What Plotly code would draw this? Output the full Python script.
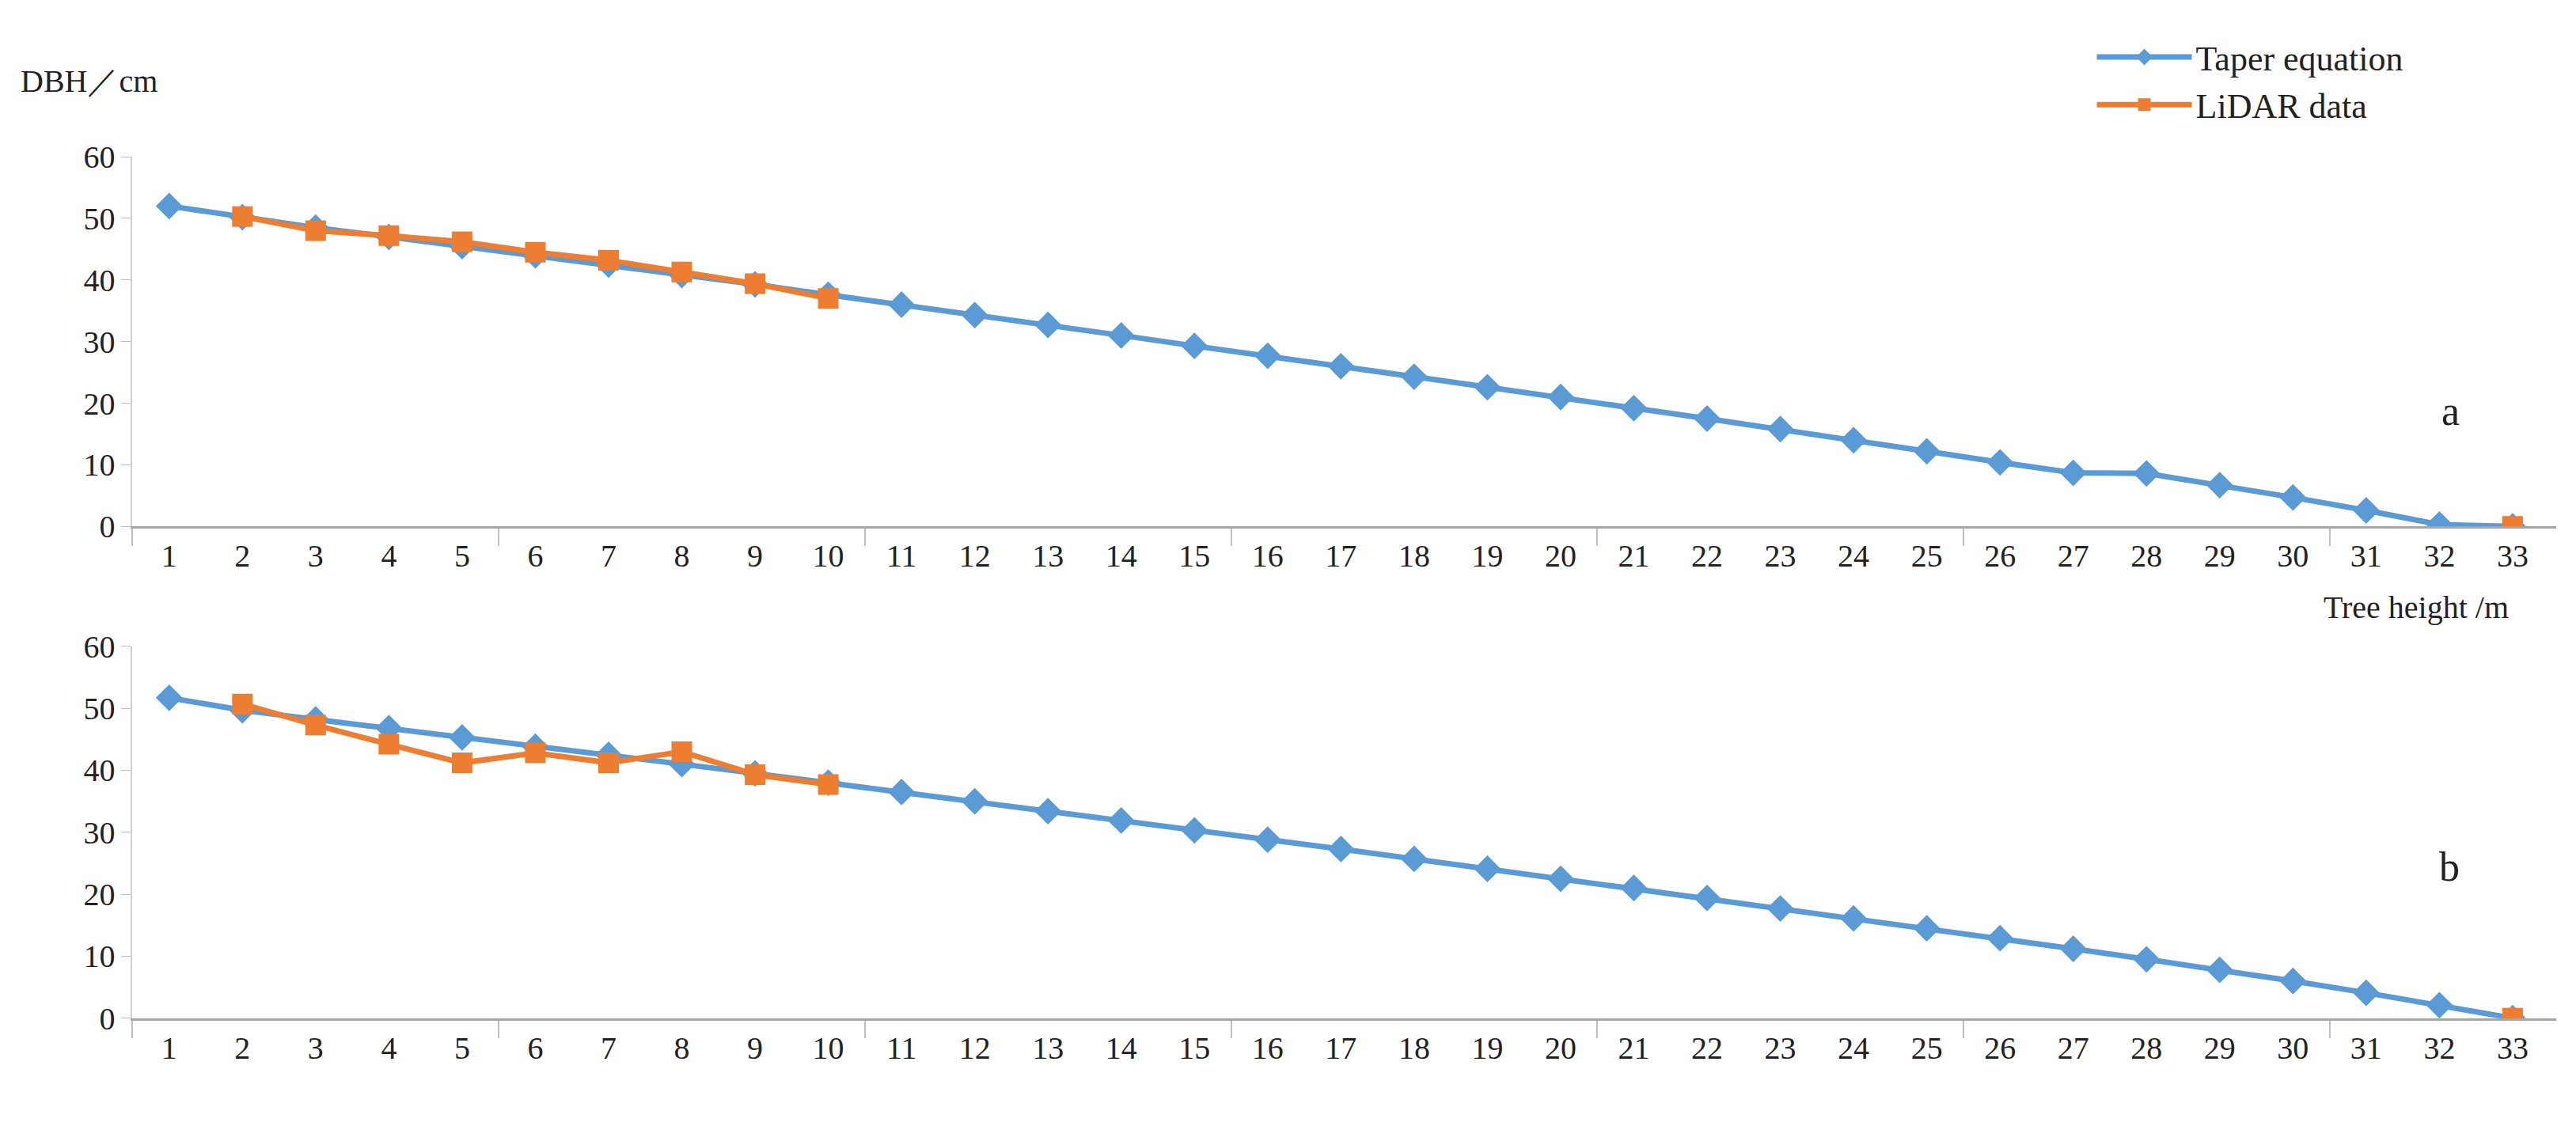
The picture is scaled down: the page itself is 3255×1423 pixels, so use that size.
import plotly.graph_objects as go

heights = list(range(1, 34))
taper_a = [52, 50.2, 48.5, 47, 45.5, 44, 42.5, 40.8, 39.3, 37.6, 36, 34.3, 32.7, 31, 29.3, 27.7,
           26, 24.3, 22.6, 21, 19.2, 17.5, 15.8, 14, 12.2, 10.4, 8.7, 8.6, 6.7, 4.7, 2.6, 0.3, 0]
lidar_a = [None, 50.3, 48, 47.2, 46.2, 44.5, 43.2, 41.3, 39.4, 37] + [None] * 22 + [0]
taper_b = [51.7, 49.7, 48.2, 46.8, 45.3, 43.8, 42.5, 41, 39.5, 38, 36.5, 35, 33.4, 31.9, 30.3, 28.8,
           27.3, 25.7, 24.1, 22.5, 21, 19.4, 17.7, 16.1, 14.5, 12.9, 11.2, 9.5, 7.8, 6, 4.1, 2.1, 0]
lidar_b = [None, 50.7, 47.3, 44.2, 41.2, 42.8, 41.2, 43, 39.3, 37.7] + [None] * 22 + [0]

BLUE = "#5b9bd5"
ORANGE = "#ed7d31"
FONT = "Liberation Serif"

fig = go.Figure()
for i, (t, l) in enumerate([(taper_a, lidar_a), (taper_b, lidar_b)]):
    xa = "x" if i == 0 else "x2"
    ya = "y" if i == 0 else "y2"
    fig.add_trace(go.Scatter(x=heights, y=t, mode="lines+markers", name="Taper equation",
                             line=dict(color=BLUE, width=7),
                             marker=dict(symbol="diamond", size=26, color=BLUE),
                             xaxis=xa, yaxis=ya, showlegend=(i == 0)))
    fig.add_trace(go.Scatter(x=heights, y=l, mode="lines+markers", name="LiDAR data",
                             line=dict(color=ORANGE, width=7),
                             marker=dict(symbol="square", size=26, color=ORANGE),
                             xaxis=xa, yaxis=ya, showlegend=(i == 0), connectgaps=False))

xcommon = dict(range=[0.5, 33.6], tickvals=heights, ticktext=[str(h) for h in heights],
               ticks="", showgrid=False, zeroline=False, showline=True, linecolor="#a6a6a6",
               linewidth=3, tickfont=dict(family=FONT, size=40, color="#222"),
               minor=dict(tick0=0.5, dtick=5, ticks="outside", ticklen=22, tickcolor="#bfbfbf",
                          tickwidth=2, showgrid=False))
ycommon = dict(range=[0, 60], tickvals=[0, 10, 20, 30, 40, 50, 60], ticks="outside", ticklen=12,
               tickcolor="#bfbfbf", showgrid=False, zeroline=False, showline=True,
               linecolor="#d0d0d0", linewidth=2, tickfont=dict(family=FONT, size=40, color="#222"))

fig.update_layout(
    width=3255, height=1423, paper_bgcolor="white", plot_bgcolor="white",
    margin=dict(l=0, r=0, t=0, b=0),
    xaxis=dict(domain=[0.049, 0.99], anchor="y", **xcommon),
    yaxis=dict(domain=[0.539, 0.878], anchor="x", **ycommon),
    xaxis2=dict(domain=[0.049, 0.99], anchor="y2", **xcommon),
    yaxis2=dict(domain=[0.088, 0.429], anchor="x2", **ycommon),
    legend=dict(x=0.81, y=0.995, xanchor="left", yanchor="top",
                font=dict(family=FONT, size=44, color="#222"), tracegroupgap=40,
                itemwidth=120, bgcolor="rgba(0,0,0,0)"),
    annotations=[
        dict(text="DBH／cm", x=0.005, y=0.965, xref="paper", yref="paper", showarrow=False,
             xanchor="left", font=dict(family=FONT, size=40, color="#222")),
        dict(text="Tree height /m", x=0.972, y=0.465, xref="paper", yref="paper", showarrow=False,
             xanchor="right", font=dict(family=FONT, size=40, color="#222")),
        dict(text="a", x=0.953, y=0.645, xref="paper", yref="paper", showarrow=False,
             font=dict(family=FONT, size=52, color="#222")),
        dict(text="b", x=0.953, y=0.205, xref="paper", yref="paper", showarrow=False,
             font=dict(family=FONT, size=52, color="#222")),
    ],
)
fig.write_html("out.html")
